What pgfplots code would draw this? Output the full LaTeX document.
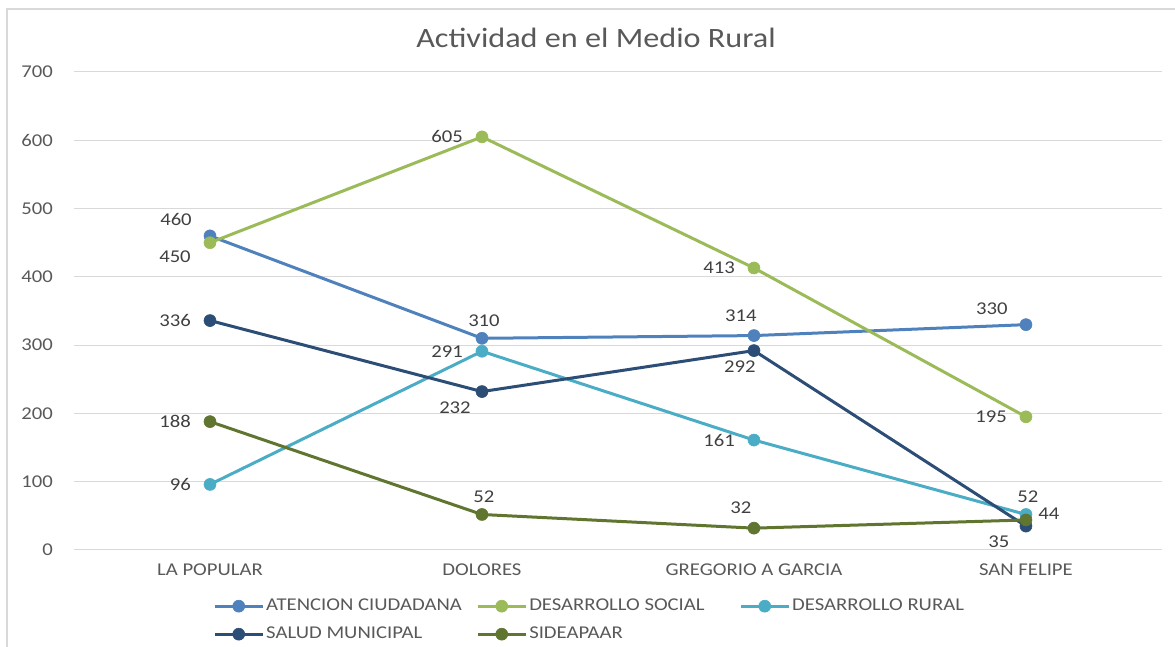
\documentclass[border=0pt]{standalone}
\usepackage{pgfplots}
\pgfplotsset{compat=1.18}
\usepackage{fontspec}
\setmainfont{Carlito}[FakeStretch=1.15]
\definecolor{cAt}{HTML}{4F81BD}
\definecolor{cSo}{HTML}{9BBB59}
\definecolor{cRu}{HTML}{4BACC6}
\definecolor{cSa}{HTML}{2C4D75}
\definecolor{cSi}{HTML}{5F7530}
\definecolor{txt}{HTML}{595959}
\definecolor{lbl}{HTML}{404040}
\definecolor{grd}{HTML}{D9D9D9}

\pgfplotsset{
  lab/.style n args={3}{forget plot, draw=none, mark=none,
    nodes near coords,
    every node near coord/.style={lbl, inner sep=0pt, anchor=#1, xshift=#2pt, yshift=#3pt, font=\fontsize{18}{22}\selectfont}},
}

\begin{document}
\fontsize{18}{22}\selectfont
\begin{tikzpicture}
\path[use as bounding box] (0,0) rectangle (1175pt,647pt);
\draw[grd, line width=1.5pt] (7pt,0) -- (7pt,638pt) -- (1175pt,638pt);
\node[txt, font=\fontsize{28}{32}\selectfont] at (596pt,609pt) {Actividad en el Medio Rural};
\begin{axis}[
  at={(74pt,97pt)}, anchor=south west,
  scale only axis, width=1088pt, height=478pt,
  xmin=-0.5, xmax=3.5, ymin=0, ymax=700,
  xtick={0,1,2,3},
  xticklabels={LA POPULAR, DOLORES, GREGORIO A GARCIA, SAN FELIPE},
  ytick={0,100,...,700},
  ymajorgrids, grid style={grd, line width=1pt},
  axis line style={draw=none}, tick style={draw=none},
  /pgf/number format/assume math mode=true,
  yticklabel style={txt, anchor=east, inner sep=0pt, xshift=-21pt},
  xticklabel style={txt, anchor=north, inner sep=0pt, yshift=-14pt},
  clip=false,
  legend columns=3,
  legend style={draw=none, fill=none, inner sep=0pt, column sep=0pt, row sep=12pt,
    at={(axis description cs:0.1278,-0.1004)}, anchor=north west,
    nodes={inner sep=0pt, text height=12pt, text depth=4pt, text=txt},
    cells={anchor=west}},
  legend image code/.code={\draw[mark repeat=2,mark phase=2,#1] plot coordinates {(0pt,0pt) (24pt,0pt) (48pt,0pt)};},
  ser/.style={line width=3pt, mark=*, mark size=6pt, color=#1, mark options={fill=#1, solid, line width=0.6pt}},
]
% ATENCION CIUDADANA
\addplot[ser=cAt] coordinates {(0,460) (1,310) (2,314) (3,330)};
\addlegendentry{\makebox[212pt][l]{\hspace{2pt}ATENCION CIUDADANA}}
% DESARROLLO SOCIAL
\addplot[ser=cSo] coordinates {(0,450) (1,605) (2,413) (3,195)};
\addlegendentry{\makebox[212pt][l]{\hspace{2pt}DESARROLLO SOCIAL}}
% DESARROLLO RURAL
\addplot[ser=cRu] coordinates {(0,96) (1,291) (2,161) (3,52)};
\addlegendentry{\makebox[212pt][l]{\hspace{2pt}DESARROLLO RURAL}}
% SALUD MUNICIPAL
\addplot[ser=cSa] coordinates {(0,336) (1,232) (2,292) (3,35)};
\addlegendentry{\makebox[212pt][l]{\hspace{2pt}SALUD MUNICIPAL}}
% SIDEAPAAR
\addplot[ser=cSi] coordinates {(0,188) (1,52) (2,32) (3,44)};
\addlegendentry{\makebox[212pt][l]{\hspace{2pt}SIDEAPAAR}}
% data labels, grouped by position
\addplot[lab={east}{-19}{0}] coordinates {(1,605) (2,413) (3,195) (0,96) (1,291) (2,161) (0,336) (0,188)};
\addplot[lab={center}{2}{18}] coordinates {(1,310) (3,52) (1,52)};
\addplot[lab={center}{-13}{20}] coordinates {(2,314) (2,32)};
\addplot[lab={center}{-34}{16}] coordinates {(0,460) (3,330)};
\addplot[lab={center}{-35}{-14}] coordinates {(0,450)};
\addplot[lab={center}{-27}{-16}] coordinates {(1,232) (3,35)};
\addplot[lab={center}{-14}{-16}] coordinates {(2,292)};
\addplot[lab={center}{23}{6}] coordinates {(3,44)};
\end{axis}
\end{tikzpicture}
\end{document}
